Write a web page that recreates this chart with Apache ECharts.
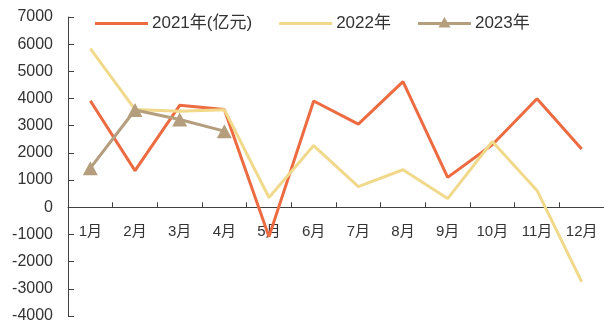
<!DOCTYPE html>
<html>
<head>
<meta charset="utf-8">
<script src="https://cdn.jsdelivr.net/npm/echarts@6/dist/echarts.min.js"></script>
<style>
  html, body { margin: 0; padding: 0; background: #fff; }
  #chart { width: 604px; height: 329px; }
</style>
</head>
<body>
<div id="chart"></div>
<script>
// Monthly values (亿元)
const months = ['1月', '2月', '3月', '4月', '5月', '6月', '7月', '8月', '9月', '10月', '11月', '12月'];
const values2021 = [3920, 1350, 3750, 3600, -1080, 3910, 3060, 4620, 1100, 2300, 3990, 2140];
const values2022 = [5840, 3600, 3530, 3590, 360, 2270, 760, 1380, 320, 2420, 620, -2740];
const values2023 = [1440, 3580, 3230, 2800];
const seriesNames = ['2021年(亿元)', '2022年', '2023年'];
const yTicks = { min: -4000, max: 7000, interval: 1000 };

const axisColor = '#404040';
const textColor = '#333333';
const latin = '"Liberation Sans", Arial, "Noto Sans CJK SC", sans-serif';

const gridTop = 17, gridBottom = 13, chartHeight = 329;
const plotHeight = chartHeight - gridTop - gridBottom;
// lift the category axis so it sits on the zero line of the value axis
const zeroLift = (0 - yTicks.min) / (yTicks.max - yTicks.min) * plotHeight;

// legend swatches: plain line, and line with a triangle marker
const lineIcon = 'path://M0,0 L0,0 M0,14 L0,14 M0,5.5 L53,5.5 L53,8.5 L0,8.5 Z';
const markerIcon = lineIcon + ' M20.5,11 L26.5,0.5 L32.5,11 Z';

const chart = echarts.init(document.getElementById('chart'), null, { renderer: 'canvas' });

chart.setOption({
  animation: false,
  backgroundColor: '#ffffff',
  legend: {
    top: 15,
    left: 95,
    padding: 0,
    itemWidth: 53,
    itemHeight: 14,
    itemGap: 27,
    textStyle: { fontFamily: latin, fontSize: 17, color: textColor, padding: [0, 0, 0, -1] },
    data: [
      { name: seriesNames[0], icon: lineIcon },
      { name: seriesNames[1], icon: lineIcon },
      { name: seriesNames[2], icon: markerIcon }
    ]
  },
  grid: { left: 68, top: gridTop, width: 538, bottom: gridBottom, containLabel: false },
  xAxis: {
    type: 'category',
    data: months,
    boundaryGap: true,
    offset: -zeroLift,
    axisLine: { onZero: false, lineStyle: { color: axisColor, width: 1 } },
    axisTick: { show: true, inside: true, length: 5, lineStyle: { color: axisColor } },
    axisLabel: { margin: 17, fontFamily: latin, fontSize: 15, color: textColor }
  },
  yAxis: {
    type: 'value',
    min: yTicks.min,
    max: yTicks.max,
    interval: yTicks.interval,
    splitLine: { show: false },
    axisLine: { show: true, lineStyle: { color: axisColor, width: 1 } },
    axisTick: { show: true, inside: true, length: 6, lineStyle: { color: axisColor } },
    axisLabel: {
      margin: 15, fontFamily: latin, fontSize: 16, color: textColor,
      formatter: (v) => String(v)
    }
  },
  series: [
    {
      name: seriesNames[0],
      type: 'line',
      data: values2021,
      symbol: 'none',
      lineStyle: { color: '#EC6B40', width: 3 },
      itemStyle: { color: '#EC6B40' }
    },
    {
      name: seriesNames[1],
      type: 'line',
      data: values2022,
      symbol: 'none',
      lineStyle: { color: '#F1D98B', width: 3 },
      itemStyle: { color: '#F1D98B' }
    },
    {
      name: seriesNames[2],
      type: 'line',
      data: values2023,
      symbol: 'triangle',
      symbolSize: [15, 14],
      showSymbol: true,
      lineStyle: { color: '#B49E7D', width: 3 },
      itemStyle: { color: '#B49E7D' }
    }
  ]
});
</script>
</body>
</html>
